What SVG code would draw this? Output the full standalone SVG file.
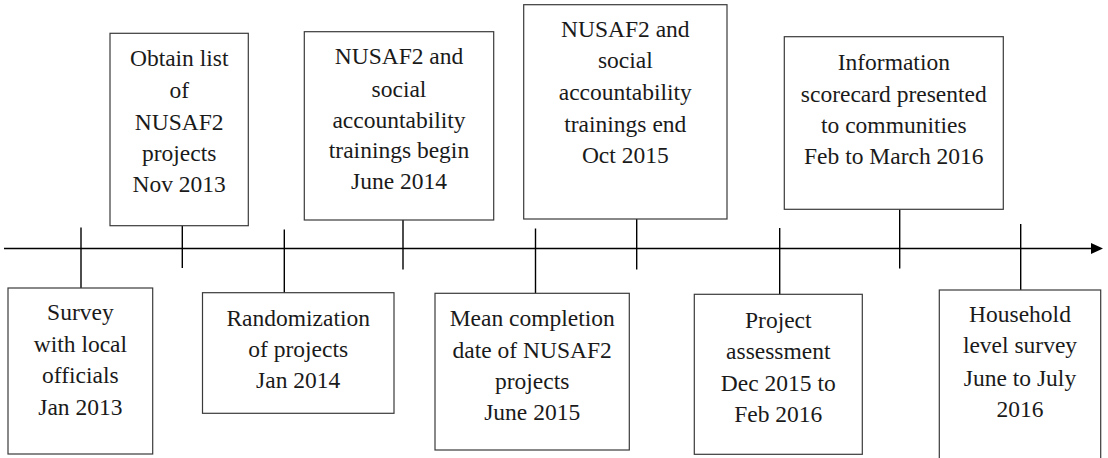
<svg xmlns="http://www.w3.org/2000/svg" width="1108" height="458" viewBox="0 0 1108 458">
<style>
.box{fill:#fff;stroke:#3a3a3a;stroke-width:1.2}
.ln{stroke:#000;stroke-width:1.4;fill:none}
text{font-size:23.5px;fill:#1a1a1a;text-anchor:middle}
</style>
<rect width="1108" height="458" fill="#fff"/>
<g id="connectors">
<line class="ln" x1="4" y1="248.5" x2="1092" y2="248.5"/>
<polygon points="1091,243 1103,248.5 1091,254" fill="#000"/>
<line class="ln" x1="81" y1="227.5" x2="81" y2="288"/>
<line class="ln" x1="182.3" y1="226" x2="182.3" y2="268"/>
<line class="ln" x1="284.3" y1="229.5" x2="284.3" y2="293"/>
<line class="ln" x1="403" y1="220" x2="403" y2="269.5"/>
<line class="ln" x1="636.7" y1="219" x2="636.7" y2="269.5"/>
<line class="ln" x1="535.5" y1="228.5" x2="535.5" y2="293.5"/>
<line class="ln" x1="779.7" y1="228" x2="779.7" y2="294.5"/>
<line class="ln" x1="899.7" y1="209.5" x2="899.7" y2="268.5"/>
<line class="ln" x1="1020.7" y1="224" x2="1020.7" y2="290"/>
</g>
<g font-family="Times New Roman">
<g id="n1"><rect class="box" x="8" y="288" width="144.7" height="166"/>
<text x="80.4" y="320">Survey</text><text x="80.4" y="351.7">with local</text><text x="80.4" y="383.3">officials</text><text x="80.4" y="415">Jan 2013</text></g>
<g id="n2"><rect class="box" x="110" y="33.3" width="138.3" height="192.4"/>
<text x="179.2" y="66">Obtain list</text><text x="179.2" y="97.5">of</text><text x="179.2" y="129.5">NUSAF2</text><text x="179.2" y="160.5">projects</text><text x="179.2" y="192">Nov 2013</text></g>
<g id="n3"><rect class="box" x="202.5" y="292.7" width="191.5" height="120.6"/>
<text x="298.2" y="326">Randomization</text><text x="298.2" y="357">of projects</text><text x="298.2" y="388">Jan 2014</text></g>
<g id="n4"><rect class="box" x="304.3" y="31.7" width="189.4" height="188.3"/>
<text x="399" y="64.3">NUSAF2 and</text><text x="399" y="96.5">social</text><text x="399" y="127.7">accountability</text><text x="399" y="157.5">trainings begin</text><text x="399" y="189.3">June 2014</text></g>
<g id="n5"><rect class="box" x="523.7" y="4.7" width="203.3" height="214.3"/>
<text x="625.3" y="36.7">NUSAF2 and</text><text x="625.3" y="68.3">social</text><text x="625.3" y="100">accountability</text><text x="625.3" y="131.7">trainings end</text><text x="625.3" y="163.3">Oct 2015</text></g>
<g id="n6"><rect class="box" x="435" y="293.3" width="194.3" height="156.7"/>
<text x="532.2" y="326">Mean completion</text><text x="532.2" y="357.7">date of NUSAF2</text><text x="532.2" y="388.5">projects</text><text x="532.2" y="420">June 2015</text></g>
<g id="n7"><rect class="box" x="694.3" y="294.3" width="168" height="160"/>
<text x="778.3" y="328.3">Project</text><text x="778.3" y="359.3">assessment</text><text x="778.3" y="390.7">Dec 2015 to</text><text x="778.3" y="422.3">Feb 2016</text></g>
<g id="n8"><rect class="box" x="784.3" y="36.7" width="219" height="172.6"/>
<text x="893.8" y="70">Information</text><text x="893.8" y="101.7">scorecard presented</text><text x="893.8" y="133.3">to communities</text><text x="893.8" y="164.3">Feb to March 2016</text></g>
<g id="n9"><rect class="box" x="939.3" y="290" width="161.4" height="180"/>
<text x="1020" y="321.7">Household</text><text x="1020" y="353.3">level survey</text><text x="1020" y="385.7">June to July</text><text x="1020" y="416.7">2016</text></g>
</g>
</svg>
